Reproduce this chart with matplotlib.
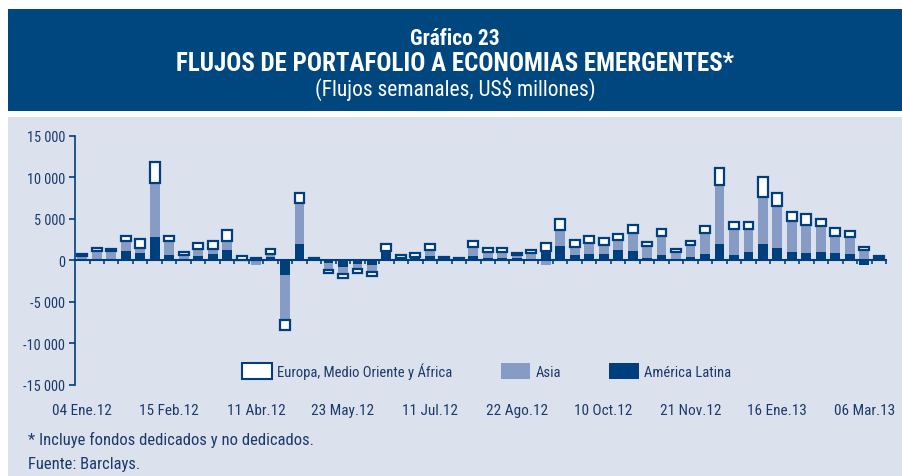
import numpy as np
import matplotlib.pyplot as plt
from matplotlib import font_manager
from matplotlib.patches import Rectangle, Patch

installed = {f.name for f in font_manager.fontManager.ttflist}
narrow = [n for n in ['Liberation Sans Narrow', 'DejaVu Sans Condensed', 'Roboto Condensed',
                      'Open Sans Condensed'] if n in installed]
plt.rcParams['font.family'] = narrow + ['DejaVu Sans']

# semanas (56 barras), US$ millones
america_latina = [150, 0, 200, 1100, 900, 2850, 700, 200, 550, 800, 1300, 0, 0, 400,
                  -1700, 2000, 150, -300, -800, -450, -500, 1100, 150, 300, 500, 50,
                  100, 500, 350, 300, 250, 150, 1200, 1750, 700, 800, 800, 1300, 1100,
                  300, 700, 50, 400, 800, 2000, 700, 1050, 2000, 1500, 1050, 900, 1000,
                  900, 800, -500, 150]
asia = [450, 1200, 1000, 1250, 600, 6500, 1600, 500, 850, 600, 1050, 100, -600, 400,
        -5500, 4900, 0, -900, -800, -600, -850, 50, 100, 150, 800, 250, 100, 1100, 700,
        750, 450, 700, -500, 1900, 950, 1350, 1100, 1200, 2250, 1450, 2250, 950, 1450,
        2550, 7050, 3100, 2700, 5700, 5100, 3750, 3350, 3150, 2100, 2000, 1300, 100]
emea = [200, 250, 200, 600, 1050, 2550, 700, 350, 650, 900, 1300, 500, 350, 600,
        -1200, 1200, 100, -300, -550, -400, -500, 800, 400, 500, 700, 100, 150, 800,
        500, 500, 200, 450, 900, 1300, 800, 850, 850, 700, 900, 500, 800, 350, 500,
        750, 2150, 800, 900, 2300, 1550, 1050, 1300, 800, 900, 800, 350, 300]
fechas = ['04 Ene.12', '15 Feb.12', '11 Abr.12', '23 May.12', '11 Jul.12',
          '22 Ago.12', '10 Oct.12', '21 Nov.12', '16 Ene.13', '06 Mar.13']
y_ticks = [-15000, -10000, -5000, 0, 5000, 10000, 15000]

DARK = '#003F7D'
LIGHT = '#879CC4'
BG = '#DCE1EE'
BANNER = '#00467F'
TXT = '#1B3A6A'

fig = plt.figure(figsize=(9.03, 4.77), dpi=100)
fig.patches.append(Rectangle((0.0089, 0.765), 0.9911, 0.214, transform=fig.transFigure,
                             facecolor=BANNER, edgecolor='none', zorder=-5))
fig.patches.append(Rectangle((0.0089, 0.0), 0.9911, 0.7526, transform=fig.transFigure,
                             facecolor=BG, edgecolor='none', zorder=-5))

fig.text(0.504, 0.918, 'Gráfico 23', color='white', fontsize=15.5, fontweight='bold',
         ha='center', va='center')
fig.text(0.504, 0.866, 'FLUJOS DE PORTAFOLIO A ECONOMIAS EMERGENTES*', color='white',
         fontsize=18, fontweight='bold', ha='center', va='center')
fig.text(0.504, 0.813, '(Flujos semanales, US$ millones)', color='white', fontsize=15.5,
         ha='center', va='center')

ax = fig.add_axes([0.0831, 0.1908, 0.8981, 0.522])
ax.set_facecolor('none')

x = np.arange(len(asia))
pos = np.zeros(len(x))
neg = np.zeros(len(x))
series = [(america_latina, DARK, 'none', 0), (asia, LIGHT, 'none', 0), (emea, 'white', DARK, 1.6)]
for vals, fc, ec, lw in series:
    v = np.array(vals, dtype=float)
    bottom = np.where(v >= 0, pos, neg)
    ax.bar(x, v, bottom=bottom, width=0.68, color=fc, edgecolor=ec, linewidth=lw, zorder=3)
    pos = pos + np.clip(v, 0, None)
    neg = neg + np.clip(v, None, 0)

ax.set_xlim(-0.5, 55.5)
ax.set_ylim(-15000, 15000)
ax.set_yticks(y_ticks)
ax.set_yticklabels([f'{t:,}'.replace(',', ' ') for t in y_ticks])
ax.tick_params(axis='y', colors=DARK, labelcolor=TXT, labelsize=10.3, length=4, width=1.2, pad=3)

for s in ['top', 'right']:
    ax.spines[s].set_visible(False)
ax.spines['left'].set_color(DARK)
ax.spines['left'].set_linewidth(1.2)
ax.spines['bottom'].set_position(('data', 0))
ax.spines['bottom'].set_color(DARK)
ax.spines['bottom'].set_linewidth(1.5)
ax.spines['bottom'].set_zorder(4)
ax.set_xticks(np.arange(0.5, 55.6, 1))
ax.tick_params(axis='x', colors=DARK, length=3, width=1.2, labelbottom=False)

sec = ax.secondary_xaxis('bottom')
sec.set_xticks(np.arange(0, len(x), 6))
sec.set_xticklabels(fechas)
sec.tick_params(length=0, pad=13, labelsize=11, labelcolor=TXT)
sec.spines['bottom'].set_visible(False)

handles = [Patch(facecolor='white', edgecolor=DARK, linewidth=1.5),
           Patch(facecolor=LIGHT), Patch(facecolor=DARK)]
ax.legend(handles, ['Europa, Medio Oriente y África', 'Asia', 'América Latina'],
          loc='center', bbox_to_anchor=(0.508, 0.056), ncol=3, frameon=False,
          fontsize=10.5, handlelength=2.0, handleheight=1.3, handletextpad=0.4,
          columnspacing=3.3, labelcolor=TXT)

fig.text(0.031, 0.078, '* Incluye fondos dedicados y no dedicados.', color=TXT,
         fontsize=12, va='center')
fig.text(0.031, 0.027, 'Fuente: Barclays.', color=TXT, fontsize=12, va='center')

fig.savefig('out.png', dpi=100)
